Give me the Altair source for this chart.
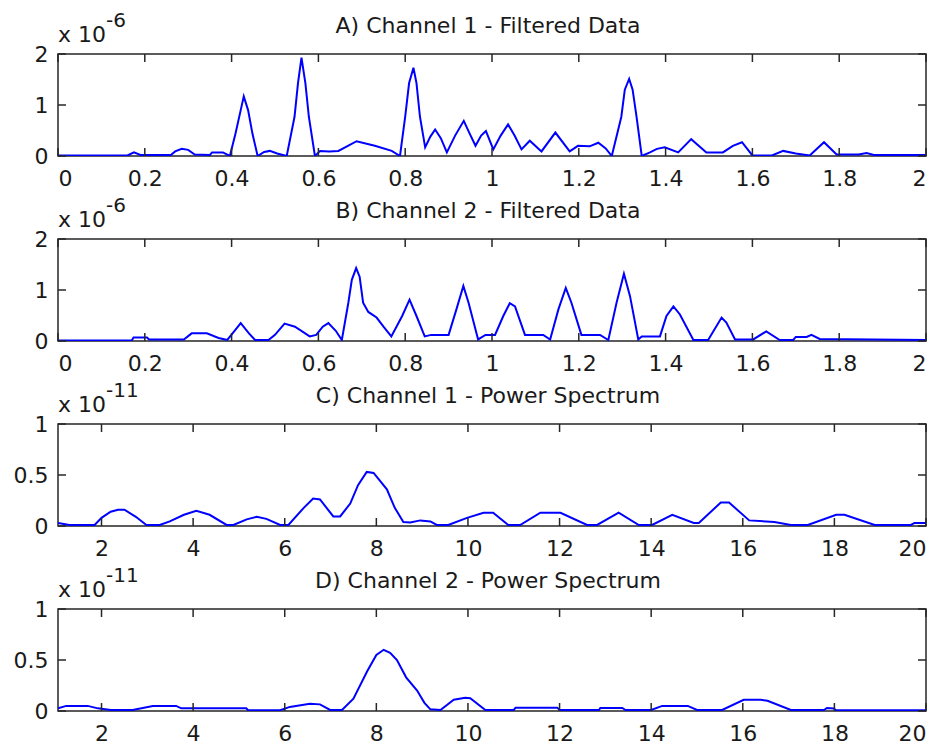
import altair as alt
import pandas as pd

# ---------------- data ----------------
A_x = [0.0, 0.16, 0.175, 0.19, 0.26, 0.27, 0.285, 0.30, 0.315, 0.35, 0.355, 0.38, 0.396, 0.409, 0.421, 0.428,
       0.438, 0.448, 0.46, 0.475, 0.488, 0.505, 0.527, 0.545, 0.553, 0.561, 0.57, 0.578, 0.592, 0.604, 0.625,
       0.646, 0.668, 0.688, 0.73, 0.769, 0.788, 0.80, 0.809, 0.819, 0.826, 0.834, 0.846, 0.858, 0.869, 0.882,
       0.896, 0.915, 0.935, 0.948, 0.962, 0.975, 0.986, 1.003, 1.02, 1.037, 1.052, 1.068, 1.087, 1.114, 1.146,
       1.179, 1.198, 1.225, 1.245, 1.262, 1.276, 1.298, 1.306, 1.316, 1.324, 1.333, 1.345, 1.364, 1.38, 1.398,
       1.429, 1.459, 1.494, 1.532, 1.555, 1.576, 1.6, 1.645, 1.671, 1.70, 1.732, 1.765, 1.794, 1.845, 1.863,
       1.88, 2.0]
A_y = [0.01, 0.01, 0.07, 0.02, 0.02, 0.09, 0.14, 0.12, 0.03, 0.02, 0.07, 0.07, 0.0, 0.44, 0.9, 1.17,
       0.9, 0.44, 0.0, 0.08, 0.1, 0.05, 0.0, 0.77, 1.43, 1.93, 1.43, 0.77, 0.0, 0.1, 0.09,
       0.1, 0.2, 0.29, 0.2, 0.1, 0.0, 0.77, 1.43, 1.73, 1.43, 0.77, 0.17, 0.38, 0.52, 0.35,
       0.07, 0.4, 0.69, 0.45, 0.2, 0.4, 0.49, 0.13, 0.4, 0.62, 0.4, 0.13, 0.3, 0.09, 0.46,
       0.09, 0.2, 0.19, 0.26, 0.15, 0.0, 0.77, 1.3, 1.51, 1.3, 0.77, 0.0, 0.07, 0.14, 0.17,
       0.07, 0.33, 0.07, 0.07, 0.2, 0.27, 0.01, 0.01, 0.1, 0.05, 0.01, 0.27, 0.03, 0.03, 0.06,
       0.02, 0.02]

B_x = [0.0, 0.17, 0.174, 0.205, 0.21, 0.29, 0.308, 0.343, 0.37, 0.39, 0.405, 0.421, 0.44, 0.454, 0.485,
       0.50, 0.522, 0.546, 0.58, 0.595, 0.61, 0.623, 0.64, 0.654, 0.669, 0.677, 0.687, 0.695, 0.703, 0.715,
       0.734, 0.75, 0.768, 0.793, 0.81, 0.826, 0.845, 0.86, 0.90, 0.918, 0.934, 0.946, 0.968, 0.985, 1.007,
       1.026, 1.041, 1.053, 1.076, 1.118, 1.134, 1.153, 1.17, 1.183, 1.206, 1.249, 1.268, 1.287, 1.304, 1.318,
       1.337, 1.345, 1.387, 1.402, 1.418, 1.433, 1.464, 1.498, 1.529, 1.54, 1.56, 1.602, 1.632, 1.663, 1.694,
       1.70, 1.725, 1.736, 1.755, 2.0]
B_y = [0.01, 0.01, 0.07, 0.07, 0.03, 0.03, 0.15, 0.15, 0.06, 0.02, 0.18, 0.35, 0.15, 0.02, 0.02,
       0.12, 0.34, 0.28, 0.09, 0.12, 0.28, 0.35, 0.2, 0.02, 0.75, 1.2, 1.43, 1.26, 0.75, 0.57,
       0.46, 0.28, 0.09, 0.49, 0.81, 0.49, 0.09, 0.12, 0.12, 0.62, 1.08, 0.75, 0.03, 0.12, 0.12,
       0.49, 0.74, 0.68, 0.12, 0.12, 0.03, 0.62, 1.04, 0.75, 0.12, 0.12, 0.02, 0.75, 1.32, 0.88,
       0.03, 0.09, 0.09, 0.49, 0.68, 0.52, 0.02, 0.02, 0.46, 0.36, 0.03, 0.03, 0.19, 0.02, 0.02,
       0.08, 0.08, 0.12, 0.04, 0.02]

C_x = [1.05, 1.3, 1.85, 2.0, 2.2, 2.36, 2.5, 2.75, 2.98, 3.27, 3.49, 3.8, 4.07, 4.36, 4.73, 4.88, 5.17,
       5.39, 5.6, 5.9, 6.08, 6.41, 6.62, 6.77, 7.06, 7.21, 7.43, 7.6, 7.79, 7.94, 8.23, 8.4, 8.59, 8.74,
       8.96, 9.18, 9.32, 9.57, 9.98, 10.34, 10.55, 10.88, 11.14, 11.58, 12.02, 12.6, 12.82, 13.29, 13.73,
       14.02, 14.46, 14.93, 15.04, 15.52, 15.7, 16.14, 16.69, 17.05, 17.42, 18.04, 18.22, 18.88, 19.67,
       19.75, 20.0]
C_y = [0.03, 0.01, 0.01, 0.08, 0.14, 0.16, 0.16, 0.09, 0.01, 0.01, 0.045, 0.11, 0.15, 0.11, 0.01, 0.01, 0.065,
       0.09, 0.07, 0.01, 0.01, 0.175, 0.27, 0.26, 0.094, 0.094, 0.22, 0.4, 0.53, 0.52, 0.36, 0.18, 0.04, 0.035,
       0.055, 0.045, 0.01, 0.01, 0.08, 0.13, 0.13, 0.01, 0.01, 0.13, 0.13, 0.01, 0.01, 0.13, 0.01,
       0.01, 0.11, 0.03, 0.03, 0.23, 0.23, 0.055, 0.04, 0.01, 0.01, 0.11, 0.11, 0.01, 0.01,
       0.03, 0.03]

D_x = [1.05, 1.23, 1.7, 1.92, 2.2, 2.68, 3.12, 3.63, 3.74, 5.16, 5.2, 5.9, 6.11, 6.55, 6.77, 6.99, 7.25,
       7.5, 7.8, 8.0, 8.16, 8.3, 8.45, 8.65, 8.89, 9.05, 9.18, 9.4, 9.69, 9.94, 10.05, 10.38, 11.0, 11.04,
       11.95, 12.0, 12.86, 12.89, 13.37, 13.44, 14.0, 14.24, 14.8, 15.0, 15.55, 16.02, 16.39, 16.54, 17.05,
       17.77, 17.84, 17.99, 18.03, 20.0]
D_y = [0.026, 0.05, 0.05, 0.026, 0.01, 0.01, 0.05, 0.05, 0.026, 0.026, 0.007, 0.007, 0.04, 0.07, 0.065, 0.01, 0.01,
       0.12, 0.39, 0.55, 0.6, 0.57, 0.5, 0.33, 0.2, 0.08, 0.016, 0.01, 0.11, 0.13, 0.125, 0.01, 0.01, 0.033,
       0.033, 0.01, 0.01, 0.03, 0.03, 0.01, 0.01, 0.05, 0.05, 0.01, 0.01, 0.11, 0.11, 0.1, 0.01,
       0.01, 0.03, 0.025, 0.007, 0.007]

titles = ["A) Channel 1 - Filtered Data", "B) Channel 2 - Filtered Data",
          "C) Channel 1 - Power Spectrum", "D) Channel 2 - Power Spectrum"]
exponents = ["-6", "-6", "-11", "-11"]

xticks_filtered = [0, 0.2, 0.4, 0.6, 0.8, 1.0, 1.2, 1.4, 1.6, 1.8, 2.0]
xticks_spectrum = [2, 4, 6, 8, 10, 12, 14, 16, 18, 20]
yticks_filtered = [0, 1, 2]
yticks_spectrum = [0, 0.5, 1]

xdom_filtered = [0, 2]
xdom_spectrum = [1.05, 20]
ydom_filtered = [0, 2]
ydom_spectrum = [0, 1]

# ---------------- style ----------------
W, H = 868, 102
FONT = "DejaVu Sans"
TXT = "#1a1a1a"
AX = "#262626"
TICK = 8


def panel(xs, ys, title, expo, xticks, yticks, xdom, ydom):
    df = pd.DataFrame({"x": xs, "y": ys})
    xsc = alt.Scale(domain=xdom, nice=False, zero=False)
    ysc = alt.Scale(domain=ydom, nice=False, zero=False)
    xaxis = alt.Axis(values=xticks, format="~g", title=None, grid=False, domain=False, ticks=False,
                     tickSize=0, labelPadding=12, labelFont=FONT, labelFontSize=22, labelColor=TXT)
    yaxis = alt.Axis(values=yticks, format="~g", title=None, grid=False, domain=False, ticks=False,
                     tickSize=0, labelPadding=10, labelFont=FONT, labelFontSize=22, labelColor=TXT)
    line = alt.Chart(df).mark_line(color="#0000ff", strokeWidth=2, clip=True).encode(
        x=alt.X("x:Q", scale=xsc, axis=xaxis),
        y=alt.Y("y:Q", scale=ysc, axis=yaxis),
    )
    xt = pd.DataFrame({"x": xticks})
    yt = pd.DataFrame({"y": yticks})
    rule_style = dict(color=AX, strokeWidth=1.5)
    bottom = alt.Chart(xt).mark_rule(**rule_style).encode(
        x=alt.X("x:Q", scale=xsc), y=alt.value(H), y2=alt.value(H - TICK))
    top = alt.Chart(xt).mark_rule(**rule_style).encode(
        x=alt.X("x:Q", scale=xsc), y=alt.value(0), y2=alt.value(TICK))
    left = alt.Chart(yt).mark_rule(**rule_style).encode(
        y=alt.Y("y:Q", scale=ysc), x=alt.value(0), x2=alt.value(TICK))
    right = alt.Chart(yt).mark_rule(**rule_style).encode(
        y=alt.Y("y:Q", scale=ysc), x=alt.value(W), x2=alt.value(W - TICK))
    mult = alt.Chart(pd.DataFrame({"t": ["x 10"]})).mark_text(
        font=FONT, fontSize=22, color=TXT, align="left", baseline="alphabetic").encode(
        text="t:N", x=alt.value(0), y=alt.value(-12))
    sup = alt.Chart(pd.DataFrame({"t": [expo]})).mark_text(
        font=FONT, fontSize=20, color=TXT, align="left", baseline="alphabetic").encode(
        text="t:N", x=alt.value(48), y=alt.value(-27))
    ttl = alt.Chart(pd.DataFrame({"t": [title]})).mark_text(
        font=FONT, fontSize=22, color=TXT, align="center", baseline="alphabetic").encode(
        text="t:N", x=alt.value(W / 2 - 4), y=alt.value(-21))
    return alt.layer(line, bottom, top, left, right, mult, sup, ttl).properties(width=W, height=H)


pA = panel(A_x, A_y, titles[0], exponents[0], xticks_filtered, yticks_filtered, xdom_filtered, ydom_filtered)
pB = panel(B_x, B_y, titles[1], exponents[1], xticks_filtered, yticks_filtered, xdom_filtered, ydom_filtered)
pC = panel(C_x, C_y, titles[2], exponents[2], xticks_spectrum, yticks_spectrum, xdom_spectrum, ydom_spectrum)
pD = panel(D_x, D_y, titles[3], exponents[3], xticks_spectrum, yticks_spectrum, xdom_spectrum, ydom_spectrum)

chart = alt.vconcat(pA, pB, pC, pD, spacing=5).properties(
    padding={"left": 12, "top": 10, "right": 5, "bottom": 5},
    background="white",
).configure_view(stroke=AX, strokeWidth=1.5).resolve_scale(x="independent", y="independent")

chart.save("out.html", embed_options={"renderer": "svg", "actions": False})
